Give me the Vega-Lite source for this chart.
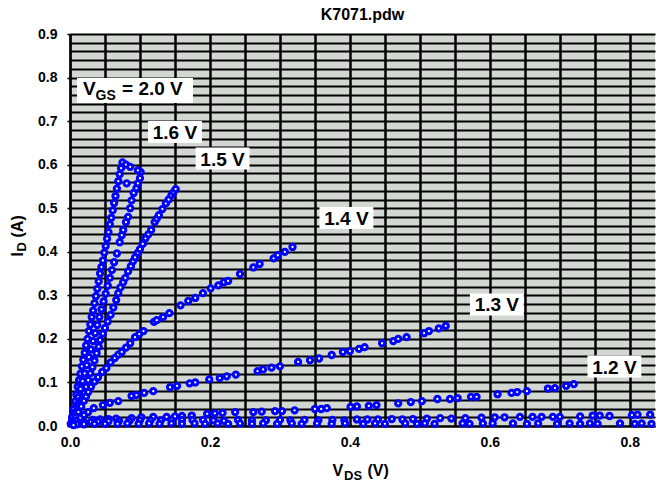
{
"$schema": "https://vega.github.io/schema/vega-lite/v6.json",
"width": 585, "height": 392,
"autosize": {"type": "none"},
"padding": {"left": 70, "top": 34, "right": 2, "bottom": 56},
"background": "white",
"title": {"text": "K7071.pdw", "font": "Liberation Sans", "fontSize": 16, "fontWeight": "bold", "color": "black", "anchor": "middle", "frame": "group", "offset": 4},
"config": {"view": {"fill": "#d3d7d2", "stroke": null}, "font": "Liberation Sans"},
"datasets": {
"curves": [
{"s":"2.0","v":0.001,"i":0.005},{"s":"2.0","v":0.003,"i":0.02},{"s":"2.0","v":0.005,"i":0.038},{"s":"2.0","v":0.007,"i":0.056},{"s":"2.0","v":0.009,"i":0.072},{"s":"2.0","v":0.011,"i":0.09},{"s":"2.0","v":0.013,"i":0.105},{"s":"2.0","v":0.015,"i":0.12},{"s":"2.0","v":0.017,"i":0.137},{"s":"2.0","v":0.019,"i":0.152},{"s":"2.0","v":0.021,"i":0.168},{"s":"2.0","v":0.023,"i":0.185},{"s":"2.0","v":0.025,"i":0.2},{"s":"2.0","v":0.027,"i":0.218},{"s":"2.0","v":0.029,"i":0.233},{"s":"2.0","v":0.031,"i":0.25},{"s":"2.0","v":0.033,"i":0.265},{"s":"2.0","v":0.035,"i":0.282},{"s":"2.0","v":0.037,"i":0.298},{"s":"2.0","v":0.039,"i":0.315},{"s":"2.0","v":0.041,"i":0.332},{"s":"2.0","v":0.043,"i":0.35},{"s":"2.0","v":0.045,"i":0.365},{"s":"2.0","v":0.047,"i":0.38},{"s":"2.0","v":0.049,"i":0.398},{"s":"2.0","v":0.051,"i":0.413},{"s":"2.0","v":0.053,"i":0.43},{"s":"2.0","v":0.055,"i":0.445},{"s":"2.0","v":0.057,"i":0.463},{"s":"2.0","v":0.059,"i":0.478},{"s":"2.0","v":0.061,"i":0.495},{"s":"2.0","v":0.063,"i":0.512},{"s":"2.0","v":0.065,"i":0.528},{"s":"2.0","v":0.067,"i":0.545},{"s":"2.0","v":0.069,"i":0.562},{"s":"2.0","v":0.071,"i":0.578},{"s":"2.0","v":0.073,"i":0.592},{"s":"2.0","v":0.075,"i":0.605},{"s":"2.0","v":0.08,"i":0.6},{"s":"2.0","v":0.086,"i":0.595},
{"s":"1.6","v":0.003,"i":0.012},{"s":"1.6","v":0.006,"i":0.03},{"s":"1.6","v":0.009,"i":0.048},{"s":"1.6","v":0.012,"i":0.066},{"s":"1.6","v":0.015,"i":0.085},{"s":"1.6","v":0.018,"i":0.103},{"s":"1.6","v":0.021,"i":0.121},{"s":"1.6","v":0.024,"i":0.14},{"s":"1.6","v":0.027,"i":0.158},{"s":"1.6","v":0.03,"i":0.176},{"s":"1.6","v":0.033,"i":0.195},{"s":"1.6","v":0.036,"i":0.213},{"s":"1.6","v":0.039,"i":0.232},{"s":"1.6","v":0.042,"i":0.25},{"s":"1.6","v":0.045,"i":0.268},{"s":"1.6","v":0.048,"i":0.286},{"s":"1.6","v":0.051,"i":0.304},{"s":"1.6","v":0.054,"i":0.322},{"s":"1.6","v":0.057,"i":0.34},{"s":"1.6","v":0.06,"i":0.358},{"s":"1.6","v":0.063,"i":0.376},{"s":"1.6","v":0.067,"i":0.396},{"s":"1.6","v":0.071,"i":0.422},{"s":"1.6","v":0.074,"i":0.438},{"s":"1.6","v":0.076,"i":0.45},{"s":"1.6","v":0.08,"i":0.468},{"s":"1.6","v":0.083,"i":0.48},{"s":"1.6","v":0.086,"i":0.5},{"s":"1.6","v":0.088,"i":0.518},{"s":"1.6","v":0.091,"i":0.535},{"s":"1.6","v":0.095,"i":0.546},{"s":"1.6","v":0.097,"i":0.557},{"s":"1.6","v":0.1,"i":0.569},{"s":"1.6","v":0.101,"i":0.583},{"s":"1.6","v":0.097,"i":0.587},{"s":"1.6","v":0.081,"i":0.557},
{"s":"1.5","v":0.004,"i":0.01},{"s":"1.5","v":0.008,"i":0.03},{"s":"1.5","v":0.012,"i":0.045},{"s":"1.5","v":0.016,"i":0.06},{"s":"1.5","v":0.02,"i":0.075},{"s":"1.5","v":0.023,"i":0.09},{"s":"1.5","v":0.026,"i":0.105},{"s":"1.5","v":0.029,"i":0.121},{"s":"1.5","v":0.032,"i":0.135},{"s":"1.5","v":0.035,"i":0.15},{"s":"1.5","v":0.038,"i":0.167},{"s":"1.5","v":0.041,"i":0.182},{"s":"1.5","v":0.043,"i":0.197},{"s":"1.5","v":0.047,"i":0.212},{"s":"1.5","v":0.05,"i":0.225},{"s":"1.5","v":0.054,"i":0.24},{"s":"1.5","v":0.058,"i":0.255},{"s":"1.5","v":0.062,"i":0.272},{"s":"1.5","v":0.066,"i":0.289},{"s":"1.5","v":0.069,"i":0.305},{"s":"1.5","v":0.072,"i":0.318},{"s":"1.5","v":0.076,"i":0.33},{"s":"1.5","v":0.079,"i":0.34},{"s":"1.5","v":0.083,"i":0.355},{"s":"1.5","v":0.087,"i":0.367},{"s":"1.5","v":0.09,"i":0.378},{"s":"1.5","v":0.093,"i":0.387},{"s":"1.5","v":0.097,"i":0.398},{"s":"1.5","v":0.1,"i":0.406},{"s":"1.5","v":0.104,"i":0.418},{"s":"1.5","v":0.108,"i":0.431},{"s":"1.5","v":0.112,"i":0.44},{"s":"1.5","v":0.116,"i":0.45},{"s":"1.5","v":0.121,"i":0.468},{"s":"1.5","v":0.124,"i":0.476},{"s":"1.5","v":0.127,"i":0.484},{"s":"1.5","v":0.132,"i":0.498},{"s":"1.5","v":0.137,"i":0.511},{"s":"1.5","v":0.141,"i":0.52},{"s":"1.5","v":0.145,"i":0.53},{"s":"1.5","v":0.148,"i":0.537},{"s":"1.5","v":0.151,"i":0.544},
{"s":"1.4","v":0.004,"i":0.008},{"s":"1.4","v":0.008,"i":0.02},{"s":"1.4","v":0.012,"i":0.032},{"s":"1.4","v":0.016,"i":0.045},{"s":"1.4","v":0.02,"i":0.058},{"s":"1.4","v":0.023,"i":0.068},{"s":"1.4","v":0.026,"i":0.078},{"s":"1.4","v":0.03,"i":0.09},{"s":"1.4","v":0.035,"i":0.102},{"s":"1.4","v":0.04,"i":0.112},{"s":"1.4","v":0.046,"i":0.124},{"s":"1.4","v":0.052,"i":0.133},{"s":"1.4","v":0.058,"i":0.146},{"s":"1.4","v":0.064,"i":0.156},{"s":"1.4","v":0.069,"i":0.164},{"s":"1.4","v":0.074,"i":0.17},{"s":"1.4","v":0.08,"i":0.18},{"s":"1.4","v":0.086,"i":0.19},{"s":"1.4","v":0.093,"i":0.204},{"s":"1.4","v":0.099,"i":0.211},{"s":"1.4","v":0.105,"i":0.218},{"s":"1.4","v":0.12,"i":0.239},{"s":"1.4","v":0.124,"i":0.243},{"s":"1.4","v":0.133,"i":0.25},{"s":"1.4","v":0.142,"i":0.259},{"s":"1.4","v":0.158,"i":0.277},{"s":"1.4","v":0.169,"i":0.287},{"s":"1.4","v":0.179,"i":0.294},{"s":"1.4","v":0.19,"i":0.305},{"s":"1.4","v":0.201,"i":0.316},{"s":"1.4","v":0.212,"i":0.323},{"s":"1.4","v":0.22,"i":0.33},{"s":"1.4","v":0.226,"i":0.333},{"s":"1.4","v":0.243,"i":0.349},{"s":"1.4","v":0.262,"i":0.364},{"s":"1.4","v":0.271,"i":0.372},{"s":"1.4","v":0.291,"i":0.385},{"s":"1.4","v":0.297,"i":0.392},{"s":"1.4","v":0.307,"i":0.4},{"s":"1.4","v":0.318,"i":0.411},
{"s":"1.3","v":0.005,"i":0.006},{"s":"1.3","v":0.01,"i":0.013},{"s":"1.3","v":0.015,"i":0.019},{"s":"1.3","v":0.02,"i":0.025},{"s":"1.3","v":0.026,"i":0.032},{"s":"1.3","v":0.034,"i":0.041},{"s":"1.3","v":0.047,"i":0.048},{"s":"1.3","v":0.057,"i":0.053},{"s":"1.3","v":0.069,"i":0.057},{"s":"1.3","v":0.088,"i":0.069},{"s":"1.3","v":0.095,"i":0.071},{"s":"1.3","v":0.106,"i":0.076},{"s":"1.3","v":0.119,"i":0.08},{"s":"1.3","v":0.143,"i":0.089},{"s":"1.3","v":0.153,"i":0.092},{"s":"1.3","v":0.171,"i":0.098},{"s":"1.3","v":0.179,"i":0.1},{"s":"1.3","v":0.199,"i":0.107},{"s":"1.3","v":0.214,"i":0.11},{"s":"1.3","v":0.224,"i":0.114},{"s":"1.3","v":0.237,"i":0.118},{"s":"1.3","v":0.268,"i":0.126},{"s":"1.3","v":0.276,"i":0.13},{"s":"1.3","v":0.288,"i":0.134},{"s":"1.3","v":0.3,"i":0.137},{"s":"1.3","v":0.326,"i":0.147},{"s":"1.3","v":0.343,"i":0.151},{"s":"1.3","v":0.356,"i":0.155},{"s":"1.3","v":0.374,"i":0.163},{"s":"1.3","v":0.39,"i":0.17},{"s":"1.3","v":0.4,"i":0.172},{"s":"1.3","v":0.413,"i":0.177},{"s":"1.3","v":0.421,"i":0.181},{"s":"1.3","v":0.446,"i":0.19},{"s":"1.3","v":0.462,"i":0.195},{"s":"1.3","v":0.469,"i":0.2},{"s":"1.3","v":0.481,"i":0.204},{"s":"1.3","v":0.506,"i":0.213},{"s":"1.3","v":0.513,"i":0.218},{"s":"1.3","v":0.527,"i":0.224},{"s":"1.3","v":0.537,"i":0.23},
{"s":"1.2","v":0.005,"i":0.003},{"s":"1.2","v":0.012,"i":0.006},{"s":"1.2","v":0.02,"i":0.009},{"s":"1.2","v":0.033,"i":0.014},{"s":"1.2","v":0.043,"i":0.015},{"s":"1.2","v":0.055,"i":0.016},{"s":"1.2","v":0.066,"i":0.017},{"s":"1.2","v":0.088,"i":0.018},{"s":"1.2","v":0.102,"i":0.02},{"s":"1.2","v":0.119,"i":0.021},{"s":"1.2","v":0.138,"i":0.021},{"s":"1.2","v":0.15,"i":0.022},{"s":"1.2","v":0.16,"i":0.023},{"s":"1.2","v":0.174,"i":0.024},{"s":"1.2","v":0.196,"i":0.028},{"s":"1.2","v":0.207,"i":0.029},{"s":"1.2","v":0.218,"i":0.03},{"s":"1.2","v":0.236,"i":0.032},{"s":"1.2","v":0.262,"i":0.032},{"s":"1.2","v":0.274,"i":0.033},{"s":"1.2","v":0.293,"i":0.034},{"s":"1.2","v":0.303,"i":0.034},{"s":"1.2","v":0.321,"i":0.036},{"s":"1.2","v":0.35,"i":0.039},{"s":"1.2","v":0.359,"i":0.039},{"s":"1.2","v":0.367,"i":0.041},{"s":"1.2","v":0.401,"i":0.044},{"s":"1.2","v":0.41,"i":0.045},{"s":"1.2","v":0.427,"i":0.046},{"s":"1.2","v":0.438,"i":0.048},{"s":"1.2","v":0.469,"i":0.052},{"s":"1.2","v":0.487,"i":0.055},{"s":"1.2","v":0.503,"i":0.057},{"s":"1.2","v":0.525,"i":0.062},{"s":"1.2","v":0.543,"i":0.062},{"s":"1.2","v":0.554,"i":0.064},{"s":"1.2","v":0.573,"i":0.067},{"s":"1.2","v":0.581,"i":0.067},{"s":"1.2","v":0.611,"i":0.073},{"s":"1.2","v":0.631,"i":0.076},{"s":"1.2","v":0.639,"i":0.078},{"s":"1.2","v":0.653,"i":0.08},{"s":"1.2","v":0.683,"i":0.086},{"s":"1.2","v":0.693,"i":0.087},{"s":"1.2","v":0.709,"i":0.092},{"s":"1.2","v":0.72,"i":0.096},
{"s":"1.1","v":0.01,"i":0.004},{"s":"1.1","v":0.02,"i":0.007},{"s":"1.1","v":0.03,"i":0.009},{"s":"1.1","v":0.04,"i":0.01},{"s":"1.1","v":0.055,"i":0.011},{"s":"1.1","v":0.07,"i":0.012},{"s":"1.1","v":0.085,"i":0.012},{"s":"1.1","v":0.1,"i":0.013},{"s":"1.1","v":0.115,"i":0.013},{"s":"1.1","v":0.13,"i":0.013},{"s":"1.1","v":0.145,"i":0.014},{"s":"1.1","v":0.16,"i":0.014},{"s":"1.1","v":0.175,"i":0.014},{"s":"1.1","v":0.19,"i":0.014},{"s":"1.1","v":0.205,"i":0.013},{"s":"1.1","v":0.22,"i":0.012},{"s":"1.1","v":0.24,"i":0.014},{"s":"1.1","v":0.26,"i":0.013},{"s":"1.1","v":0.28,"i":0.013},{"s":"1.1","v":0.3,"i":0.014},{"s":"1.1","v":0.315,"i":0.013},{"s":"1.1","v":0.335,"i":0.014},{"s":"1.1","v":0.355,"i":0.013},{"s":"1.1","v":0.375,"i":0.014},{"s":"1.1","v":0.392,"i":0.013},{"s":"1.1","v":0.41,"i":0.015},{"s":"1.1","v":0.425,"i":0.015},{"s":"1.1","v":0.44,"i":0.015},{"s":"1.1","v":0.46,"i":0.016},{"s":"1.1","v":0.475,"i":0.015},{"s":"1.1","v":0.49,"i":0.016},{"s":"1.1","v":0.51,"i":0.017},{"s":"1.1","v":0.529,"i":0.018},{"s":"1.1","v":0.545,"i":0.017},{"s":"1.1","v":0.565,"i":0.018},{"s":"1.1","v":0.588,"i":0.019},{"s":"1.1","v":0.607,"i":0.02},{"s":"1.1","v":0.621,"i":0.02},{"s":"1.1","v":0.643,"i":0.021},{"s":"1.1","v":0.661,"i":0.021},{"s":"1.1","v":0.674,"i":0.021},{"s":"1.1","v":0.69,"i":0.021},{"s":"1.1","v":0.7,"i":0.021},{"s":"1.1","v":0.729,"i":0.022},{"s":"1.1","v":0.747,"i":0.024},{"s":"1.1","v":0.757,"i":0.024},{"s":"1.1","v":0.771,"i":0.023},{"s":"1.1","v":0.803,"i":0.025},{"s":"1.1","v":0.811,"i":0.026},{"s":"1.1","v":0.829,"i":0.026},
{"s":"1.0","v":0.005,"i":0.002},{"s":"1.0","v":0.02,"i":0.004},{"s":"1.0","v":0.035,"i":0.005},{"s":"1.0","v":0.05,"i":0.005},{"s":"1.0","v":0.068,"i":0.005},{"s":"1.0","v":0.082,"i":0.006},{"s":"1.0","v":0.098,"i":0.005},{"s":"1.0","v":0.113,"i":0.006},{"s":"1.0","v":0.128,"i":0.005},{"s":"1.0","v":0.145,"i":0.006},{"s":"1.0","v":0.16,"i":0.005},{"s":"1.0","v":0.178,"i":0.006},{"s":"1.0","v":0.193,"i":0.005},{"s":"1.0","v":0.211,"i":0.006},{"s":"1.0","v":0.226,"i":0.005},{"s":"1.0","v":0.243,"i":0.006},{"s":"1.0","v":0.26,"i":0.005},{"s":"1.0","v":0.276,"i":0.006},{"s":"1.0","v":0.296,"i":0.005},{"s":"1.0","v":0.317,"i":0.006},{"s":"1.0","v":0.331,"i":0.005},{"s":"1.0","v":0.353,"i":0.006},{"s":"1.0","v":0.374,"i":0.005},{"s":"1.0","v":0.393,"i":0.006},{"s":"1.0","v":0.419,"i":0.005},{"s":"1.0","v":0.436,"i":0.006},{"s":"1.0","v":0.45,"i":0.005},{"s":"1.0","v":0.479,"i":0.006},{"s":"1.0","v":0.496,"i":0.005},{"s":"1.0","v":0.507,"i":0.006},{"s":"1.0","v":0.521,"i":0.005},{"s":"1.0","v":0.561,"i":0.006},{"s":"1.0","v":0.571,"i":0.005},{"s":"1.0","v":0.59,"i":0.006},{"s":"1.0","v":0.604,"i":0.006},{"s":"1.0","v":0.633,"i":0.006},{"s":"1.0","v":0.653,"i":0.005},{"s":"1.0","v":0.669,"i":0.006},{"s":"1.0","v":0.696,"i":0.005},{"s":"1.0","v":0.714,"i":0.006},{"s":"1.0","v":0.729,"i":0.005},{"s":"1.0","v":0.743,"i":0.006},{"s":"1.0","v":0.754,"i":0.005},{"s":"1.0","v":0.786,"i":0.006},{"s":"1.0","v":0.807,"i":0.005},{"s":"1.0","v":0.817,"i":0.006},{"s":"1.0","v":0.831,"i":0.005}
],
"labels": [
{"kind":"main","text":"= 2.0 V","v":0.0929,"i":0.77},
{"kind":"sub","text":"1.6 V","v":0.15,"i":0.675},
{"kind":"sub","text":"1.5 V","v":0.218,"i":0.614},
{"kind":"sub","text":"1.4 V","v":0.395,"i":0.4775},
{"kind":"sub","text":"1.3 V","v":0.61,"i":0.279},
{"kind":"sub","text":"1.2 V","v":0.778,"i":0.1366}
]
},
"resolve": {"axis": {"x": "independent", "y": "independent"}},
"layer": [
{
"data": {"name": "curves"},
"mark": {"type": "point", "shape": "circle", "filled": true, "fill": "white", "stroke": "#0000ff", "strokeWidth": 3, "size": 28, "opacity": 1},
"encoding": {
"x": {"field": "v", "type": "quantitative", "scale": {"domain": [0, 0.836], "nice": false, "zero": false},
"axis": {"orient": "bottom", "values": [0,0.05,0.1,0.15,0.2,0.25,0.3,0.35,0.4,0.45,0.5,0.55,0.6,0.65,0.7,0.75,0.8], "grid": true, "gridColor": "black", "gridWidth": 2.5, "gridOpacity": 1, "labels": false, "ticks": false, "domain": false, "title": null}},
"y": {"field": "i", "type": "quantitative", "scale": {"domain": [0, 0.9], "nice": false, "zero": false},
"axis": {"orient": "left", "values": [0,0.02,0.04,0.06,0.08,0.1,0.12,0.14,0.16,0.18,0.2,0.22,0.24,0.26,0.28,0.3,0.32,0.34,0.36,0.38,0.4,0.42,0.44,0.46,0.48,0.5,0.52,0.54,0.56,0.58,0.6,0.62,0.64,0.66,0.68,0.7,0.72,0.74,0.76,0.78,0.8,0.82,0.84,0.86,0.88,0.9], "grid": true, "gridColor": "black", "gridWidth": 2, "gridOpacity": 1, "labels": false, "ticks": false, "domain": false, "title": null}}
}
},
{
"data": {"name": "labels"},
"transform": [{"filter": "datum.kind === 'sub'"}],
"mark": {"type": "point", "shape": "M-2.45,-1H2.45V1H-2.45Z", "filled": true, "fill": "white", "strokeWidth": 0, "size": 484, "opacity": 1},
"encoding": {
"x": {"field": "v", "type": "quantitative", "scale": {"domain": [0, 0.836], "nice": false, "zero": false},
"axis": {"orient": "bottom", "values": [0, 0.2, 0.4, 0.6, 0.8], "format": ".1f", "grid": false, "ticks": false, "domain": true, "domainColor": "black", "domainWidth": 2, "labelFont": "Liberation Sans", "labelFontSize": 14, "labelFontWeight": "bold", "labelColor": "black", "labelPadding": 9, "labelFlush": false, "labelOverlap": false, "title": "V", "titleFont": "Liberation Sans", "titleFontSize": 16, "titleFontWeight": "bold", "titleColor": "black", "titleX": 262, "titleY": 49, "titleAlign": "left", "titleBaseline": "alphabetic"}},
"y": {"field": "i", "type": "quantitative", "scale": {"domain": [0, 0.9], "nice": false, "zero": false},
"axis": {"orient": "left", "values": [0,0.1,0.2,0.3,0.4,0.5,0.6,0.7,0.8,0.9], "format": ".1f", "grid": false, "ticks": true, "tickSize": 3, "tickColor": "black", "tickWidth": 1.5, "domain": true, "domainColor": "black", "domainWidth": 2, "labelFont": "Liberation Sans", "labelFontSize": 14, "labelFontWeight": "bold", "labelColor": "black", "labelPadding": 10, "labelFlush": false, "labelOverlap": false, "title": "I", "titleFont": "Liberation Sans", "titleFontSize": 16, "titleFontWeight": "bold", "titleColor": "black", "titleAngle": 270, "titleX": -48, "titleY": 222, "titleAlign": "left", "titleBaseline": "alphabetic"}}
}
},
{
"data": {"name": "labels"},
"transform": [{"filter": "datum.kind === 'main'"}],
"mark": {"type": "point", "shape": "M-4.64,-1H4.64V1H-4.64Z", "filled": true, "fill": "white", "strokeWidth": 0, "size": 625, "opacity": 1},
"encoding": {
"x": {"field": "v", "type": "quantitative", "scale": {"domain": [0, 0.836], "nice": false, "zero": false},
"axis": {"orient": "bottom", "grid": false, "ticks": false, "domain": false, "labels": false, "title": "DS", "titleFont": "Liberation Sans", "titleFontSize": 13, "titleFontWeight": "bold", "titleColor": "black", "titleX": 273.5, "titleY": 53, "titleAlign": "left", "titleBaseline": "alphabetic"}},
"y": {"field": "i", "type": "quantitative", "scale": {"domain": [0, 0.9], "nice": false, "zero": false},
"axis": {"orient": "left", "grid": false, "ticks": false, "domain": false, "labels": false, "title": "D", "titleFont": "Liberation Sans", "titleFontSize": 13, "titleFontWeight": "bold", "titleColor": "black", "titleAngle": 270, "titleX": -45, "titleY": 217, "titleAlign": "left", "titleBaseline": "alphabetic"}}
}
},
{
"data": {"name": "labels"},
"transform": [{"filter": "datum.kind === 'sub'"}],
"mark": {"type": "text", "font": "Liberation Sans", "fontSize": 19, "fontWeight": "bold", "color": "black", "align": "center", "baseline": "alphabetic", "dy": 7},
"encoding": {
"x": {"field": "v", "type": "quantitative", "scale": {"domain": [0, 0.836], "nice": false, "zero": false},
"axis": {"orient": "bottom", "grid": false, "ticks": false, "domain": false, "labels": false, "title": "(V)", "titleFont": "Liberation Sans", "titleFontSize": 16, "titleFontWeight": "bold", "titleColor": "black", "titleX": 297, "titleY": 49, "titleAlign": "left", "titleBaseline": "alphabetic"}},
"y": {"field": "i", "type": "quantitative", "scale": {"domain": [0, 0.9], "nice": false, "zero": false},
"axis": {"orient": "left", "grid": false, "ticks": false, "domain": false, "labels": false, "title": "(A)", "titleFont": "Liberation Sans", "titleFontSize": 16, "titleFontWeight": "bold", "titleColor": "black", "titleAngle": 270, "titleX": -48, "titleY": 203, "titleAlign": "left", "titleBaseline": "alphabetic"}},
"text": {"field": "text"}
}
},
{
"data": {"name": "labels"},
"transform": [{"filter": "datum.kind === 'main'"}],
"mark": {"type": "text", "text": "V", "font": "Liberation Sans", "fontSize": 19, "fontWeight": "bold", "color": "black", "align": "left", "baseline": "alphabetic", "dx": -52, "dy": 4.5},
"encoding": {
"x": {"field": "v", "type": "quantitative", "scale": {"domain": [0, 0.836], "nice": false, "zero": false}, "axis": null},
"y": {"field": "i", "type": "quantitative", "scale": {"domain": [0, 0.9], "nice": false, "zero": false}, "axis": null}
}
},
{
"data": {"name": "labels"},
"transform": [{"filter": "datum.kind === 'main'"}],
"mark": {"type": "text", "text": "GS", "font": "Liberation Sans", "fontSize": 14, "fontWeight": "bold", "color": "black", "align": "left", "baseline": "alphabetic", "dx": -39.5, "dy": 9.5},
"encoding": {
"x": {"field": "v", "type": "quantitative", "scale": {"domain": [0, 0.836], "nice": false, "zero": false}, "axis": null},
"y": {"field": "i", "type": "quantitative", "scale": {"domain": [0, 0.9], "nice": false, "zero": false}, "axis": null}
}
},
{
"data": {"name": "labels"},
"transform": [{"filter": "datum.kind === 'main'"}],
"mark": {"type": "text", "font": "Liberation Sans", "fontSize": 19, "fontWeight": "bold", "color": "black", "align": "left", "baseline": "alphabetic", "dx": -13, "dy": 4.5},
"encoding": {
"x": {"field": "v", "type": "quantitative", "scale": {"domain": [0, 0.836], "nice": false, "zero": false}, "axis": null},
"y": {"field": "i", "type": "quantitative", "scale": {"domain": [0, 0.9], "nice": false, "zero": false}, "axis": null},
"text": {"field": "text"}
}
}
]
}
